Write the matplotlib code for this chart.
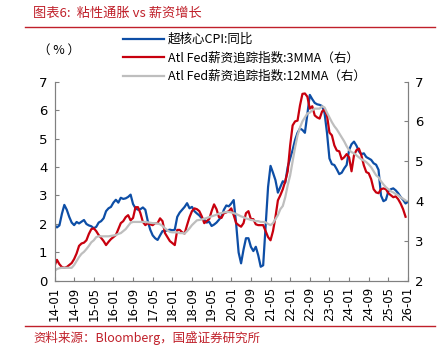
import matplotlib
matplotlib.use("Agg")
import matplotlib.pyplot as plt
import numpy as np

plt.rcParams['font.family'] = ['Noto Sans CJK SC', 'DejaVu Sans']

# 月度数据: 2014-01 起
# 超核心CPI同比 (左轴)
supercore = [1.96, 1.88, 1.95, 2.35, 2.67, 2.5, 2.25, 2.05, 1.96, 2.07, 2.02, 2.08,
             2.14, 2.0, 1.95, 1.92, 1.85, 1.9, 2.05, 2.1, 2.2, 2.45, 2.55, 2.6,
             2.75, 2.85, 2.75, 2.92, 2.88, 2.9, 2.95, 3.03, 2.7, 2.55, 2.5, 2.52,
             2.58, 2.5, 2.1, 1.8, 1.6, 1.5, 1.44, 1.6, 1.75, 1.75, 1.78, 1.8,
             1.78, 1.8, 2.25, 2.4, 2.5, 2.6, 2.73, 2.55, 2.6, 2.45, 2.37, 2.3,
             2.2, 2.15, 2.05, 2.08, 1.93, 1.98, 2.05, 2.15, 2.26, 2.5, 2.65, 2.62,
             2.72, 2.84, 2.0, 1.0, 0.62, 1.1, 1.5, 1.5, 1.2, 1.05, 1.2, 0.9,
             0.5, 0.55, 1.9, 3.3, 4.04, 3.8, 3.54, 3.1, 3.3, 3.5, 3.45, 4.0,
             4.3, 4.6, 4.95, 5.2, 5.35, 5.3, 5.2, 5.85, 6.53, 6.38, 6.25, 6.2,
             6.18, 6.14, 5.9, 5.2, 4.3, 4.1, 4.07, 3.92, 3.75, 3.8, 3.95, 4.07,
             4.6, 4.8, 4.89, 4.75, 4.55, 4.45, 4.48, 4.35, 4.3, 4.25, 4.13, 4.08,
             3.9, 3.0, 2.8, 2.85, 3.15, 3.22, 3.25, 3.18, 3.08, 2.95, 2.85, 2.72,
             2.78]

# Atl Fed薪资追踪指数 3MMA (右轴)
wage_3mma = [2.38, 2.53, 2.42, 2.35, 2.33, 2.35, 2.4, 2.45, 2.55, 2.69, 2.88, 2.94,
             2.96, 3.02, 3.18, 3.3, 3.32, 3.25, 3.15, 3.08, 3.0, 2.9, 2.98, 3.05,
             3.1, 3.15, 3.3, 3.45, 3.5, 3.6, 3.65, 3.52, 3.58, 3.85, 3.85, 3.7,
             3.48, 3.4, 3.45, 3.42, 3.4, 3.45, 3.45, 3.57, 3.5, 3.2, 3.1, 3.0,
             2.95, 2.9, 3.28, 3.28, 3.22, 3.19, 3.4, 3.6, 3.75, 3.82, 3.8, 3.75,
             3.62, 3.45, 3.5, 3.55, 3.75, 3.92, 3.8, 3.6, 3.58, 3.7, 3.72, 3.75,
             3.82, 3.65, 3.45, 3.4, 3.36, 3.45, 3.7, 3.75, 3.55, 3.55, 3.42, 3.4,
             3.4, 3.4, 3.25, 3.1, 3.02, 3.25, 3.6, 4.02, 4.15, 4.3, 4.5, 4.75,
             5.4, 5.9, 6.0, 6.02, 6.4, 6.69, 6.7, 6.62, 6.32, 6.38, 6.15, 6.1,
             6.07, 6.25, 6.3, 6.15, 5.72, 5.65, 5.4, 5.27, 5.25, 5.05, 5.1, 5.18,
             5.1, 4.75, 5.15, 5.28, 5.32, 5.15, 4.9, 4.73, 4.7, 4.55, 4.3, 4.22,
             4.2, 4.3, 4.32, 4.3, 4.2, 4.15, 4.1, 4.12, 4.05, 3.94, 3.8, 3.61]

# Atl Fed薪资追踪指数 12MMA (右轴)
wage_12mma = [2.25, 2.3, 2.32, 2.33, 2.33, 2.33, 2.33, 2.33, 2.4, 2.5, 2.6, 2.68,
              2.73, 2.8, 2.88, 2.97, 3.02, 3.1, 3.12, 3.12, 3.12, 3.12, 3.12, 3.13,
              3.14, 3.15, 3.18, 3.2, 3.25, 3.3, 3.38, 3.46, 3.48, 3.48, 3.48, 3.48,
              3.48, 3.48, 3.47, 3.46, 3.45, 3.45, 3.44, 3.42, 3.38, 3.32, 3.27, 3.23,
              3.22, 3.22, 3.22, 3.2, 3.2, 3.19, 3.25, 3.32, 3.4, 3.46, 3.52, 3.53,
              3.54, 3.56, 3.58, 3.6, 3.62, 3.64, 3.66, 3.69, 3.7, 3.72, 3.73, 3.73,
              3.72, 3.7, 3.68, 3.65, 3.62, 3.6, 3.57, 3.55, 3.53, 3.52, 3.5, 3.5,
              3.48, 3.48, 3.47, 3.43, 3.4, 3.45, 3.55, 3.65, 3.8, 3.88, 4.1, 4.4,
              4.65, 5.0, 5.35, 5.65, 5.85, 6.0, 6.1, 6.2, 6.22, 6.28, 6.32, 6.32,
              6.32, 6.38, 6.35, 6.22, 6.1, 5.98, 5.88, 5.8, 5.7, 5.6, 5.5, 5.38,
              5.28, 5.23, 5.2, 5.15, 5.1, 5.05, 5.02, 4.98, 4.92, 4.85, 4.75, 4.65,
              4.6, 4.5, 4.42, 4.35, 4.3, 4.25, 4.22, 4.18, 4.15, 4.1, 4.06, 4.02]

tick_labels = ['14-01', '14-09', '15-05', '16-01', '16-09', '17-05', '18-01',
               '18-09', '19-05', '20-01', '20-09', '21-05', '22-01', '22-09',
               '23-05', '24-01', '24-09', '25-05', '26-01']

blue = '#0D4EA6'
red = '#C8000E'
gray = '#BEBEBE'
axis_c = '#808080'
title_c = '#C0202A'

fig = plt.figure(figsize=(4.46, 3.55), dpi=100)
ax = fig.add_axes([0.1222, 0.2085, 0.7926, 0.5619])
ax2 = ax.twinx()

l1, = ax.plot(np.arange(len(supercore)), supercore, color=blue, lw=1.6,
              label='超核心CPI:同比')
l2, = ax2.plot(np.arange(len(wage_3mma)), wage_3mma, color=red, lw=1.6,
               label='Atl Fed薪资追踪指数:3MMA（右）')
l3, = ax2.plot(np.arange(len(wage_12mma)), wage_12mma, color=gray, lw=1.6,
               label='Atl Fed薪资追踪指数:12MMA（右）')

ax.set_xlim(0, 144)
ax.set_ylim(0, 7)
ax2.set_ylim(2, 7)
ax.set_xticks(np.arange(0, 145, 8))
ax.set_xticklabels(tick_labels, rotation=90, family='DejaVu Sans', fontsize=8.5)
ax.set_yticks(range(0, 8))
ax2.set_yticks(range(2, 8))

for a in (ax, ax2):
    for s in a.spines.values():
        s.set_color(axis_c)
        s.set_linewidth(0.8)
    a.spines['top'].set_visible(False)
    a.tick_params(direction='in', color=axis_c, length=3, width=0.8,
                  labelsize=9.5, pad=5)
for lab in ax.get_yticklabels() + ax2.get_yticklabels():
    lab.set_family('DejaVu Sans')
ax.tick_params(axis='x', labelsize=8.5, pad=4)

fig.legend(handles=[l1, l2, l3], loc='upper left', bbox_to_anchor=(0.262, 0.925),
           frameon=False, fontsize=9, handlelength=3.3, handletextpad=0.3,
           labelspacing=0.45, borderpad=0)

fig.text(0.085, 0.858, '（ % ）', fontsize=9, ha='left', va='center')

# 标题与来源
fig.text(0.075, 0.962, '图表6:  粘性通胀 vs 薪资增长', color=title_c, fontsize=9.5,
         ha='left', va='center', style='italic')
fig.add_artist(plt.Line2D([0.056, 0.976], [0.924, 0.924], color=title_c, lw=1.0))
fig.add_artist(plt.Line2D([0.056, 0.976], [0.082, 0.082], color=title_c, lw=1.0))
fig.text(0.075, 0.048, '资料来源：Bloomberg，国盛证券研究所', color=title_c, fontsize=9,
         ha='left', va='center', style='italic')

fig.savefig('out.png', dpi=100)
